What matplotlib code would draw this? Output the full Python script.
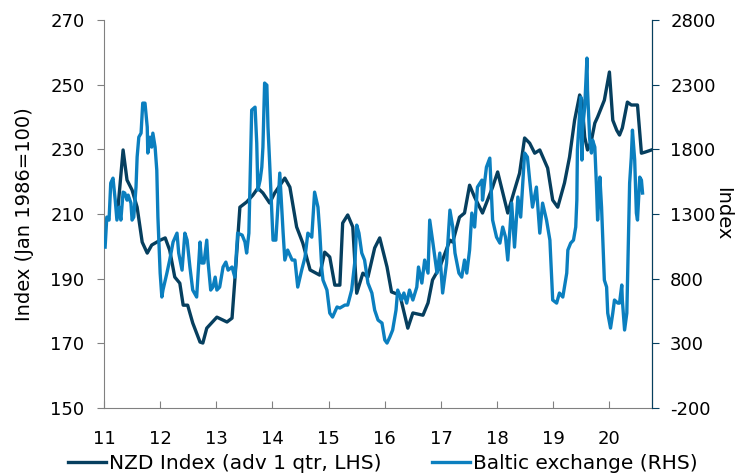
import matplotlib
matplotlib.use("Agg")
import matplotlib.pyplot as plt

# NZD index (advanced 1 quarter), left axis
nzd_t = [11.25, 11.34, 11.41, 11.50, 11.59, 11.68, 11.77, 11.85, 12.00, 12.09,
         12.17, 12.26, 12.35, 12.41, 12.49, 12.58, 12.71, 12.76, 12.83, 13.01,
         13.19, 13.28, 13.33, 13.42, 13.54, 13.65, 13.74, 13.83, 13.95, 14.04,
         14.22, 14.31, 14.43, 14.54, 14.67, 14.84, 14.93, 15.02, 15.11, 15.20,
         15.25, 15.34, 15.43, 15.50, 15.61, 15.70, 15.82, 15.91, 16.04, 16.12,
         16.27, 16.41, 16.50, 16.68, 16.77, 16.85, 16.98, 17.16, 17.21, 17.33,
         17.42, 17.51, 17.60, 17.74, 17.92, 18.01, 18.19, 18.31, 18.40, 18.49,
         18.58, 18.67, 18.76, 18.90, 18.99, 19.08, 19.20, 19.29, 19.38, 19.47,
         19.51, 19.56, 19.61, 19.68, 19.74, 19.79, 19.91, 20.00, 20.06, 20.13,
         20.18, 20.23, 20.32, 20.39, 20.50, 20.57, 20.63, 20.75]
nzd_v = [212.1, 229.8, 220.5, 217.4, 212.1, 201.3, 197.9, 200.4, 201.9, 202.6,
         198.8, 190.5, 188.6, 181.8, 181.8, 176.3, 170.4, 170.1, 174.7, 178.1,
         176.6, 177.8, 189.6, 212.1, 213.7, 215.8, 218.0, 216.5, 213.4, 216.5,
         221.1, 218.3, 206.0, 201.0, 192.7, 191.1, 198.2, 196.7, 188.0, 188.0,
         207.2, 209.7, 206.0, 185.5, 191.7, 190.5, 199.5, 202.6, 193.6, 185.9,
         184.9, 174.7, 179.4, 178.7, 182.5, 189.6, 193.6, 201.9, 201.3, 209.0,
         210.3, 218.9, 215.2, 210.3, 218.3, 223.0, 210.3, 217.4, 222.6, 233.5,
         231.9, 228.8, 229.8, 224.2, 214.3, 212.1, 219.6, 227.6, 239.0, 246.8,
         245.2, 233.8, 229.8, 232.8, 238.1, 240.0, 245.2, 253.9, 239.0, 235.9,
         234.4, 236.6, 244.6, 243.7, 243.7, 228.8, 229.1, 229.8]

# Baltic exchange index, right axis
baltic_t = [11.02, 11.05, 11.09, 11.12, 11.16, 11.20, 11.23, 11.27, 11.30, 11.34,
            11.37, 11.41, 11.43, 11.48, 11.50, 11.53, 11.57, 11.59, 11.62, 11.66,
            11.69, 11.73, 11.77, 11.78, 11.82, 11.85, 11.87, 11.91, 11.94, 11.96,
            12.00, 12.03, 12.05, 12.12, 12.17, 12.23, 12.30, 12.33, 12.39, 12.44,
            12.48, 12.53, 12.58, 12.65, 12.71, 12.74, 12.78, 12.83, 12.85, 12.90,
            12.94, 12.98, 13.01, 13.06, 13.12, 13.17, 13.21, 13.28, 13.33, 13.38,
            13.46, 13.51, 13.54, 13.58, 13.63, 13.69, 13.72, 13.74, 13.78, 13.81,
            13.83, 13.86, 13.90, 13.92, 13.95, 14.01, 14.06, 14.10, 14.13, 14.19,
            14.22, 14.27, 14.35, 14.40, 14.45, 14.52, 14.58, 14.63, 14.70, 14.75,
            14.81, 14.84, 14.88, 14.90, 14.97, 15.02, 15.07, 15.15, 15.20, 15.29,
            15.34, 15.41, 15.47, 15.50, 15.54, 15.59, 15.64, 15.70, 15.77, 15.82,
            15.88, 15.95, 16.00, 16.04, 16.09, 16.14, 16.20, 16.23, 16.30, 16.34,
            16.39, 16.44, 16.50, 16.57, 16.60, 16.66, 16.71, 16.77, 16.80, 16.85,
            16.93, 16.98, 17.03, 17.10, 17.16, 17.21, 17.25, 17.32, 17.37, 17.42,
            17.46, 17.51, 17.55, 17.60, 17.65, 17.73, 17.74, 17.81, 17.87, 17.92,
            17.99, 18.05, 18.10, 18.15, 18.19, 18.26, 18.31, 18.37, 18.42, 18.49,
            18.54, 18.58, 18.63, 18.70, 18.76, 18.81, 18.88, 18.94, 18.99, 19.06,
            19.11, 19.17, 19.24, 19.26, 19.31, 19.36, 19.40, 19.42, 19.43, 19.47,
            19.49, 19.51, 19.52, 19.56, 19.60, 19.61, 19.65, 19.68, 19.70, 19.74,
            19.77, 19.79, 19.83, 19.86, 19.88, 19.91, 19.95, 19.97, 20.02, 20.06,
            20.09, 20.15, 20.18, 20.22, 20.23, 20.27, 20.31, 20.36, 20.39, 20.41,
            20.45, 20.48, 20.50, 20.54, 20.57, 20.59]
baltic_v = [1044, 1276, 1253, 1539, 1577, 1407, 1253, 1353, 1253, 1469,
            1462, 1407, 1446, 1384, 1253, 1276, 1508, 1740, 1894, 1925,
            2157, 2157, 1972, 1771, 1894, 1817, 1925, 1817, 1639, 1276,
            843, 658, 712, 843, 944, 1083, 1152, 998, 866, 1152,
            1098, 890, 712, 658, 1083, 921, 921, 1098, 944, 712,
            735, 812, 712, 735, 890, 928, 866, 890, 812, 1152,
            1137, 1083, 998, 1152, 2103, 2126, 1848, 1485, 1562, 1662,
            1817, 2312, 2296, 1972, 1693, 1098, 1098, 1384, 1616, 1152,
            944, 1021, 944, 944, 735, 866, 967, 1152, 1121, 1469,
            1353, 1176, 866, 789, 712, 534, 503, 581, 573, 596,
            596, 712, 944, 1214, 1152, 998, 944, 766, 689, 557,
            480, 457, 326, 302, 349, 403, 557, 712, 635, 689,
            611, 712, 635, 735, 890, 766, 944, 843, 1253, 1098,
            843, 998, 689, 921, 1330, 1199, 998, 843, 812, 944,
            843, 1021, 1307, 1199, 1508, 1562, 1407, 1662, 1732, 1253,
            1121, 1075, 1199, 1121, 944, 1384, 1044, 1431, 1276, 1771,
            1740, 1562, 1353, 1508, 1152, 1384, 1253, 1098, 635, 611,
            689, 658, 843, 1021, 1075, 1098, 1199, 1407, 1794, 2080,
            2203, 1717, 1948, 2126, 2505, 2258, 1871, 1771, 1871, 1817,
            1508, 1253, 1585, 1353, 1121, 789, 735, 534, 418, 534,
            635, 611, 611, 751, 635, 403, 534, 1539, 1740, 1948,
            1717, 1307, 1253, 1585, 1562, 1462]

year_ticks = [11, 12, 13, 14, 15, 16, 17, 18, 19, 20]
left_ticks = [150, 170, 190, 210, 230, 250, 270]
right_ticks = [-200, 300, 800, 1300, 1800, 2300, 2800]

dark = '#063f5f'
light = '#0b7fbf'

plt.rcParams['font.family'] = 'DejaVu Sans'
plt.rcParams['font.size'] = 13
plt.rcParams['axes.unicode_minus'] = False

fig = plt.figure(figsize=(7.36, 4.75), dpi=100)
ax = fig.add_axes([0.1413, 0.141, 0.7447, 0.817])
ax2 = ax.twinx()

l1, = ax.plot(nzd_t, nzd_v, color=dark, lw=2.4, label='NZD Index (adv 1 qtr, LHS)')
l2, = ax2.plot(baltic_t, baltic_v, color=light, lw=2.4, label='Baltic exchange (RHS)')

ax.set_xlim(11, 20.76)
ax.set_ylim(150, 270)
ax2.set_ylim(-200, 2800)
ax.set_xticks(year_ticks)
ax.set_xticklabels([str(y) for y in year_ticks])
ax.set_yticks(left_ticks)
ax2.set_yticks(right_ticks)

for a in (ax, ax2):
    a.spines['top'].set_visible(False)
ax.spines['left'].set_color('#808080')
ax.spines['bottom'].set_color('#808080')
ax2.spines['left'].set_visible(False)
ax2.spines['bottom'].set_visible(False)
ax2.spines['right'].set_color(dark)

ax.tick_params(axis='x', direction='in', length=5, color='#808080', pad=16)
ax.tick_params(axis='y', direction='out', length=5, color='#808080', pad=9)
ax2.tick_params(axis='y', direction='out', length=5, color=dark, pad=8)

ax.set_ylabel('Index (Jan 1986=100)', fontsize=14, labelpad=12)
ax2.set_ylabel('Index', fontsize=14, rotation=270, labelpad=12)

fig.legend(handles=[l1, l2], loc='lower center', bbox_to_anchor=(0.52, -0.033),
           ncol=2, frameon=False, fontsize=14.5, handlelength=1.9,
           handletextpad=0.15, columnspacing=2.5)

fig.savefig('out.png', dpi=100)
